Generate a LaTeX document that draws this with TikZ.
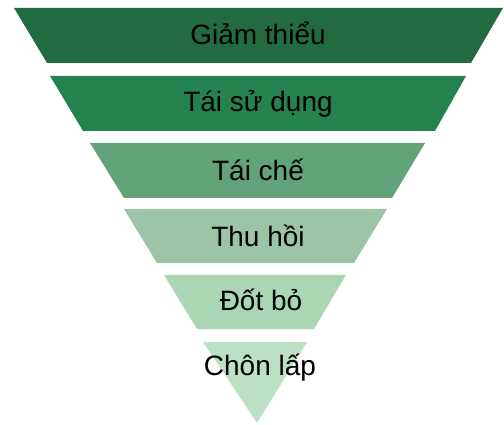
\documentclass[tikz,border=0pt]{standalone}
\usepackage{fontspec}
\setmainfont{Liberation Sans}
\definecolor{cA}{RGB}{34,107,64}
\definecolor{cB}{RGB}{35,130,78}
\definecolor{cC}{RGB}{98,163,122}
\definecolor{cD}{RGB}{156,196,166}
\definecolor{cE}{RGB}{170,214,180}
\definecolor{cF}{RGB}{188,224,196}
\tikzset{
  lbl/.style={anchor=base, font=\fontsize{28}{30}\selectfont, text=black, inner sep=0pt},
}
\begin{document}
\begin{tikzpicture}[x=1pt,y=-1pt]
\useasboundingbox (0,0) rectangle (504,425);
\fill[cA] (14,8) -- (503,8) -- (471,63) -- (47,63) -- cycle;
\fill[cB] (50,76) -- (466,76) -- (435,131) -- (83,131) -- cycle;
\fill[cC] (90,143) -- (425,143) -- (392,198) -- (124,198) -- cycle;
\fill[cD] (124,209) -- (387,209) -- (354,263) -- (157,263) -- cycle;
\fill[cE] (164,275) -- (346,275) -- (314,329) -- (197,329) -- cycle;
\fill[cF] (203,342) -- (307,342) -- (257,423) -- cycle;
\node[lbl] (t1) at (258,45) {Giảm thiểu};
\node[lbl] (t2) at (258,112) {Tái sử dụng};
\node[lbl] (t3) at (258,181) {Tái chế};
\node[lbl] (t4) at (258,247) {Thu hồi};
\node[lbl] (t5) at (261,310) {Đốt bỏ};
\node[lbl] (t6) at (260,375) {Chôn lấp};
\end{tikzpicture}
\end{document}
